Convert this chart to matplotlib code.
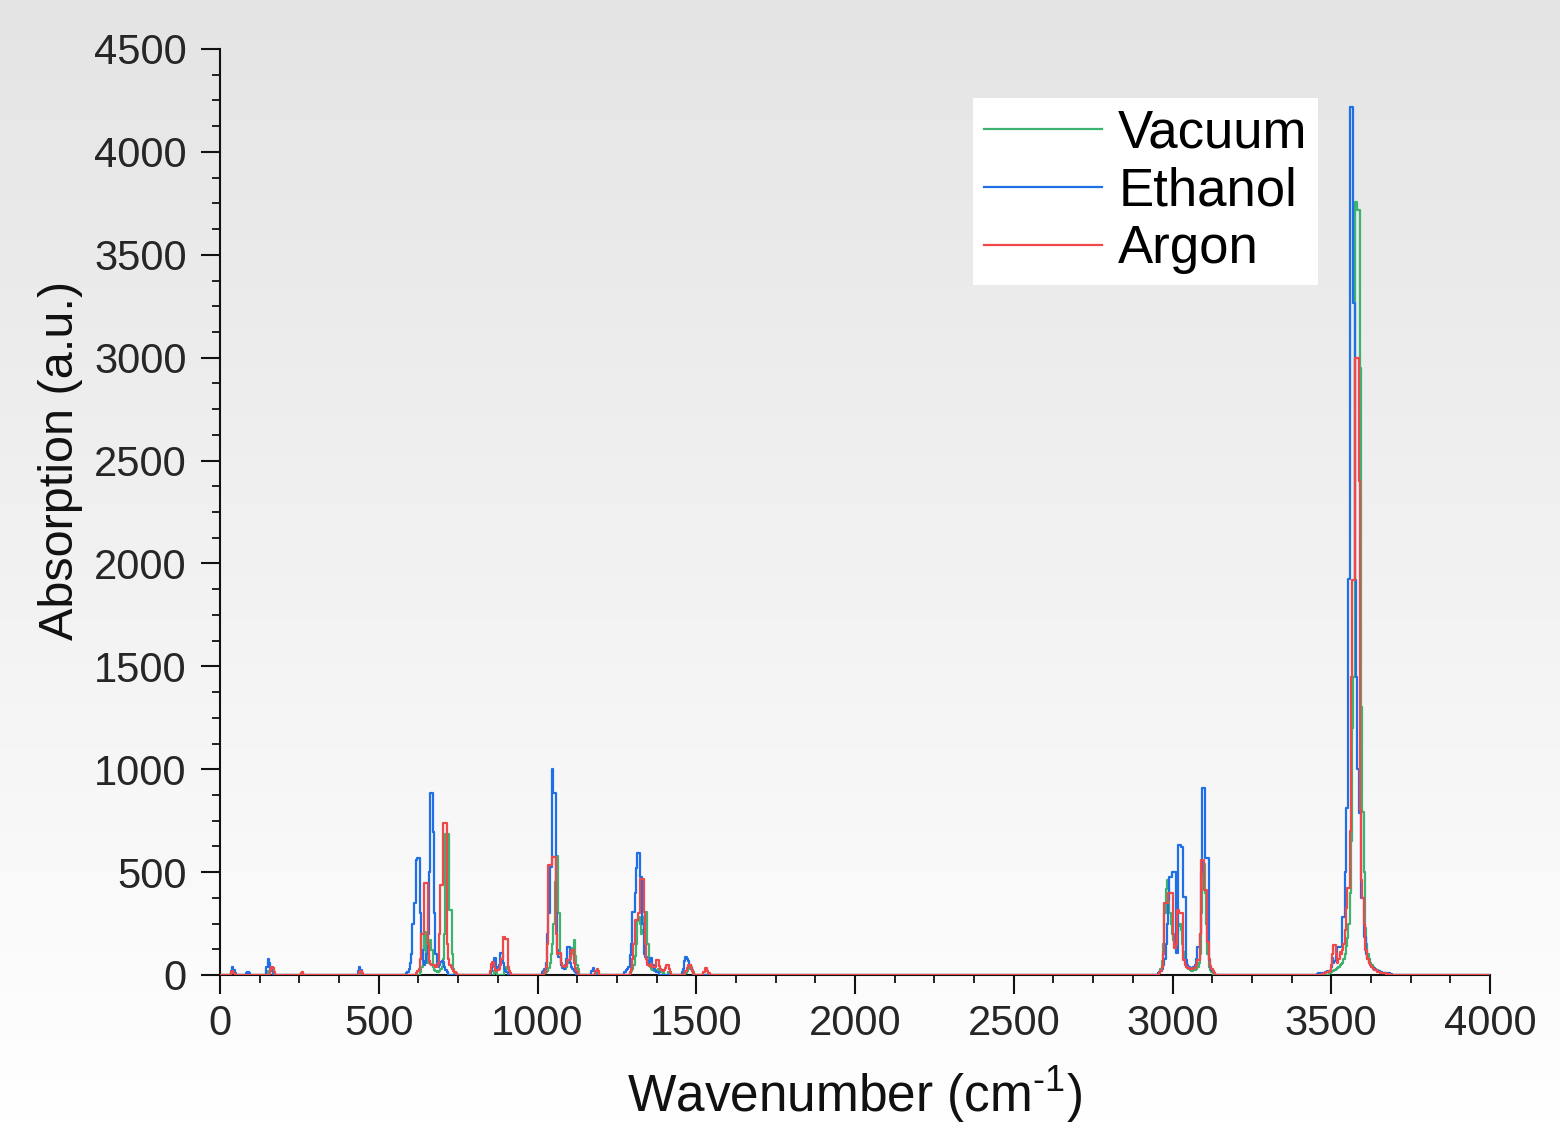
import numpy as np
import matplotlib
matplotlib.use("Agg")
import matplotlib.pyplot as plt

plt.rcParams['font.family'] = ['Liberation Sans', 'DejaVu Sans']
plt.rcParams['mathtext.fontset'] = 'custom'
plt.rcParams['mathtext.rm'] = 'Liberation Sans'
plt.rcParams['mathtext.it'] = 'Liberation Sans'

vacuum_wn = [0,
    32, 36, 40, 44, 48,
    148, 152, 156, 160, 164, 168, 172,
    252, 256, 260, 264,
    436, 440, 444,
    628, 632, 636, 640, 644, 648, 652, 656, 660, 664, 668, 672, 676, 680, 684, 688, 692, 696, 700, 704, 708, 712, 716, 720, 724, 728, 732, 736, 740, 744,
    860, 864, 868, 872, 876,
    892, 896, 900, 904, 908, 912,
    1020, 1024, 1028, 1032, 1036, 1040, 1044, 1048, 1052, 1056, 1060, 1064, 1068, 1072, 1076, 1080, 1084, 1088, 1092, 1096, 1100, 1104, 1108, 1112, 1116, 1120, 1124, 1128, 1132,
    1184, 1188, 1192,
    1288, 1292, 1296, 1300, 1304, 1308, 1312, 1316, 1320, 1324, 1328, 1332, 1336, 1340, 1344, 1348, 1352, 1356, 1360, 1364, 1368, 1372, 1376, 1380, 1384, 1388, 1392, 1396, 1400,
    1408, 1412, 1416,
    1464, 1468, 1472, 1476, 1480, 1484, 1488, 1492, 1496,
    2956, 2960, 2964, 2968, 2972, 2976, 2980, 2984, 2988, 2992, 2996, 3000, 3004, 3008, 3012, 3016, 3020, 3024, 3028, 3032, 3036, 3040, 3044, 3048, 3052, 3056, 3060, 3064, 3068, 3072, 3076, 3080, 3084, 3088, 3092, 3096, 3100, 3104, 3108, 3112, 3116, 3120, 3124, 3128,
    3492, 3496, 3500, 3504, 3508, 3512, 3516, 3520, 3524, 3528, 3532, 3536, 3540, 3544, 3548, 3552, 3556, 3560, 3564, 3568, 3572, 3576, 3580, 3584, 3588, 3592, 3596, 3600, 3604, 3608, 3612, 3616, 3620, 3624, 3628, 3632, 3636, 3640, 3644, 3648, 3652, 3656, 3660, 3668, 3676, 3684,
    4000]
vacuum_abs = [0,
    0, 8, 12, 8, 0,
    0, 20, 15, 30, 35, 25, 0,
    0, 12, 15, 0,
    0, 10, 0,
    0, 15, 40, 120, 209, 209, 100, 60, 140, 170, 120, 40, 25, 20, 15, 15, 20, 30, 40, 80, 200, 685, 685, 685, 316, 316, 100, 30, 12, 0,
    0, 20, 30, 10, 0,
    0, 20, 25, 40, 30, 0,
    0, 10, 15, 20, 35, 60, 100, 150, 250, 450, 578, 578, 300, 100, 60, 40, 30, 30, 40, 60, 70, 80, 100, 130, 170, 90, 50, 30, 0,
    0, 15, 0,
    0, 10, 20, 30, 50, 90, 150, 260, 280, 250, 200, 220, 280, 306, 306, 150, 60, 40, 30, 25, 20, 20, 25, 30, 20, 15, 15, 10, 0,
    0, 15, 0,
    0, 10, 20, 30, 40, 40, 25, 15, 0,
    0, 15, 30, 70, 150, 300, 420, 462, 430, 300, 250, 200, 170, 150, 160, 200, 240, 250, 220, 150, 110, 80, 55, 40, 30, 25, 20, 20, 22, 25, 30, 40, 60, 100, 300, 540, 540, 400, 250, 100, 40, 25, 15, 0,
    0, 10, 15, 18, 20, 25, 30, 35, 40, 50, 55, 60, 80, 100, 140, 180, 250, 400, 650, 1200, 1450, 3756, 3756, 3717, 3717, 2950, 1300, 790, 500, 228, 150, 100, 80, 60, 50, 40, 35, 30, 25, 20, 18, 15, 12, 8, 5, 0,
    0]

ethanol_wn = [0,
    32, 36, 40, 44, 48, 52,
    80, 84, 88, 92, 96,
    144, 148, 152, 156, 160, 164, 168,
    432, 436, 440, 444, 448,
    584, 588, 592, 596, 600, 604, 608, 612, 616, 620, 624, 628, 632, 636, 640, 644, 648, 652, 656, 660, 664, 668, 672, 676, 680, 684, 688, 692, 696, 700, 704, 708, 712, 716, 720,
    852, 856, 860, 864, 868, 872, 876, 880, 884, 888, 892, 896, 900, 904, 908,
    1012, 1016, 1020, 1024, 1028, 1032, 1036, 1040, 1044, 1048, 1052, 1056, 1060, 1064, 1068, 1072, 1076, 1080, 1084, 1088, 1092, 1096, 1100, 1104, 1108, 1112, 1116, 1120, 1124,
    1168, 1172, 1176, 1180, 1184,
    1272, 1276, 1280, 1284, 1288, 1292, 1296, 1300, 1304, 1308, 1312, 1316, 1320, 1324, 1328, 1332, 1336, 1340, 1344, 1348, 1352, 1356, 1360, 1364, 1368, 1372, 1376, 1380, 1384,
    1452, 1456, 1460, 1464, 1468, 1472, 1476, 1480, 1484, 1488, 1492,
    2952, 2956, 2960, 2964, 2968, 2972, 2976, 2980, 2984, 2988, 2992, 2996, 3000, 3004, 3008, 3012, 3016, 3020, 3024, 3028, 3032, 3036, 3040, 3044, 3048, 3052, 3056, 3060, 3064, 3068, 3072, 3076, 3080, 3084, 3088, 3092, 3096, 3100, 3104, 3108, 3112, 3116, 3120, 3124, 3128, 3132, 3136,
    3452, 3456, 3460, 3468, 3476, 3484, 3492, 3496, 3500, 3504, 3508, 3512, 3516, 3520, 3524, 3528, 3532, 3536, 3540, 3544, 3548, 3552, 3556, 3560, 3564, 3568, 3572, 3576, 3580, 3584, 3588, 3592, 3596, 3600, 3604, 3608, 3612, 3616, 3620, 3624, 3628, 3632, 3636, 3640, 3648, 3656, 3664, 3672, 3680, 3688, 3696,
    4000]
ethanol_abs = [0,
    0, 20, 40, 25, 10, 0,
    0, 12, 15, 12, 0,
    0, 40, 80, 60, 30, 20, 0,
    0, 20, 40, 25, 0,
    0, 8, 15, 30, 60, 100, 250, 350, 350, 560, 568, 568, 300, 120, 70, 50, 60, 100, 200, 500, 884, 884, 695, 300, 100, 50, 40, 50, 65, 70, 65, 40, 25, 15, 0,
    0, 20, 50, 82, 82, 40, 30, 50, 107, 107, 60, 30, 20, 15, 0,
    0, 15, 20, 30, 60, 200, 300, 525, 525, 1001, 884, 884, 300, 120, 88, 88, 50, 35, 30, 50, 80, 136, 136, 60, 40, 30, 20, 15, 0,
    0, 20, 34, 20, 0,
    0, 15, 25, 30, 40, 97, 150, 306, 306, 400, 520, 593, 593, 476, 476, 250, 100, 88, 88, 60, 70, 83, 83, 50, 30, 20, 15, 15, 0,
    0, 15, 30, 70, 88, 80, 70, 50, 30, 20, 0,
    0, 10, 15, 20, 30, 50, 80, 150, 250, 364, 476, 476, 500, 500, 500, 107, 107, 632, 632, 622, 622, 379, 379, 73, 50, 40, 35, 33, 35, 40, 50, 80, 136, 136, 200, 500, 908, 908, 568, 568, 568, 73, 40, 25, 18, 12, 0,
    0, 5, 8, 10, 12, 14, 18, 20, 40, 83, 60, 70, 90, 136, 136, 136, 136, 282, 282, 500, 811, 811, 1925, 4218, 4218, 4218, 3265, 1919, 1448, 1000, 787, 787, 374, 374, 185, 185, 100, 80, 60, 50, 40, 35, 30, 25, 20, 15, 12, 10, 8, 5, 0,
    0]

argon_wn = [0,
    32, 36, 40, 44, 48,
    156, 160, 164, 168, 172, 176,
    252, 256, 260, 264,
    436, 440, 444, 448, 452,
    616, 620, 624, 628, 632, 636, 640, 644, 648, 652, 656, 660, 664, 668, 672, 676, 680, 684, 688, 692, 696, 700, 704, 708, 712, 716, 720, 724, 728, 732, 736, 740, 744, 748,
    848, 852, 856, 860, 864, 868, 872, 876, 880, 884, 888, 892, 896, 900, 904, 908, 912, 916, 920,
    1020, 1024, 1028, 1032, 1036, 1040, 1044, 1048, 1052, 1056, 1060, 1064, 1068, 1072, 1076, 1080, 1084, 1088, 1092, 1096, 1100, 1104, 1108, 1112, 1116, 1120, 1124, 1128,
    1180, 1184, 1188, 1192, 1196,
    1288, 1292, 1296, 1300, 1304, 1308, 1312, 1316, 1320, 1324, 1328, 1332, 1336, 1340, 1344, 1348, 1352, 1356, 1360, 1364, 1368, 1372, 1376, 1380, 1384, 1388, 1392, 1396, 1400, 1404, 1408, 1412, 1416, 1420, 1424,
    1460, 1464, 1468, 1472, 1476, 1480, 1484, 1488, 1492, 1496,
    1520, 1524, 1528, 1532, 1536, 1540, 1544,
    2956, 2960, 2964, 2968, 2972, 2976, 2980, 2984, 2988, 2992, 2996, 3000, 3004, 3008, 3012, 3016, 3020, 3024, 3028, 3032, 3036, 3040, 3044, 3048, 3052, 3056, 3060, 3064, 3068, 3072, 3076, 3080, 3084, 3088, 3092, 3096, 3100, 3104, 3108, 3112, 3116, 3120, 3124, 3128, 3132, 3136,
    3468, 3472, 3480, 3488, 3496, 3500, 3504, 3508, 3512, 3516, 3520, 3524, 3528, 3532, 3536, 3540, 3544, 3548, 3552, 3556, 3560, 3564, 3568, 3572, 3576, 3580, 3584, 3588, 3592, 3596, 3600, 3604, 3608, 3612, 3616, 3620, 3624, 3628, 3632, 3640, 3648, 3656, 3668, 3680, 3692,
    4000]
argon_abs = [0,
    0, 15, 20, 10, 0,
    0, 25, 40, 35, 15, 0,
    0, 12, 15, 0,
    0, 15, 20, 10, 0,
    0, 10, 20, 30, 80, 200, 200, 447, 447, 447, 150, 70, 55, 48, 48, 48, 40, 45, 60, 200, 437, 437, 738, 738, 738, 150, 80, 50, 40, 30, 20, 15, 10, 0,
    0, 20, 55, 63, 40, 25, 20, 25, 30, 50, 80, 185, 185, 175, 175, 40, 20, 10, 0,
    0, 15, 40, 150, 534, 534, 534, 573, 573, 573, 200, 100, 107, 107, 60, 45, 40, 45, 50, 73, 73, 90, 121, 121, 60, 35, 20, 0,
    0, 20, 30, 20, 0,
    0, 15, 30, 80, 150, 267, 267, 267, 300, 466, 466, 466, 306, 150, 80, 50, 45, 50, 55, 40, 38, 40, 73, 73, 45, 30, 25, 20, 25, 35, 49, 49, 30, 15, 0,
    0, 10, 20, 35, 49, 49, 35, 20, 10, 0,
    0, 15, 34, 34, 20, 10, 0,
    0, 10, 20, 40, 100, 350, 350, 350, 398, 398, 398, 398, 200, 130, 150, 316, 316, 300, 300, 300, 73, 50, 40, 35, 32, 30, 30, 30, 32, 35, 50, 73, 73, 200, 559, 559, 413, 413, 413, 160, 80, 45, 30, 18, 10, 0,
    0, 5, 10, 15, 20, 50, 100, 146, 146, 100, 58, 80, 112, 100, 120, 150, 220, 325, 423, 423, 700, 1448, 1919, 1919, 2998, 2998, 2998, 2400, 800, 462, 374, 250, 121, 121, 80, 60, 50, 40, 30, 22, 15, 12, 8, 5, 0,
    0]

series_names = ["Vacuum", "Ethanol", "Argon"]
series_colors = ["#3cb371", "#1f6fe6", "#f04848"]

x_ticks = [0, 500, 1000, 1500, 2000, 2500, 3000, 3500, 4000]
y_ticks = [0, 500, 1000, 1500, 2000, 2500, 3000, 3500, 4000, 4500]

# ---------------- figure ----------------
W, H = 1560, 1126
fig = plt.figure(figsize=(W / 100, H / 100), dpi=100)

# background gradient (light gray at top to white at bottom)
bg = fig.add_axes([0, 0, 1, 1], zorder=-10)
grad = np.linspace(0.895, 1.0, 256).reshape(-1, 1)
bg.imshow(np.dstack([grad, grad, grad]), aspect='auto', extent=[0, 1, 0, 1], origin='upper')
bg.axis('off')

ax = fig.add_axes([220 / W, (H - 975) / H, 1270 / W, 926 / H])
ax.set_facecolor('none')

data = [(vacuum_wn, vacuum_abs), (ethanol_wn, ethanol_abs), (argon_wn, argon_abs)]
for (wn, ab), name, col in zip(data, series_names, series_colors):
    ax.plot(wn, ab, drawstyle='steps-mid', color=col, lw=1.6, label=name, zorder=3)

ax.set_xlim(0, 4000)
ax.set_ylim(0, 4500)
ax.set_xticks(x_ticks)
ax.set_yticks(y_ticks)
ax.set_xticks(np.arange(0, 4001, 125), minor=True)
ax.set_yticks(np.arange(0, 4501, 125), minor=True)

for s in ['top', 'right']:
    ax.spines[s].set_visible(False)
for s in ['left', 'bottom']:
    ax.spines[s].set_linewidth(1.5)
    ax.spines[s].set_color('#111111')

tick_color = '#262626'
ax.tick_params(axis='both', which='major', direction='out', length=14, width=1.5,
               labelsize=30, labelcolor=tick_color, color='#111111')
ax.tick_params(axis='both', which='minor', direction='out', length=6, width=1.3, color='#111111')
ax.tick_params(axis='y', which='major', pad=10)
ax.tick_params(axis='x', which='major', pad=7)

ax.set_xlabel('Wavenumber (cm$^{\\text{-1}}$)', fontsize=37, color='#111111', labelpad=15)
ax.set_ylabel('Absorption (a.u.)', fontsize=35, color='#111111')
ax.yaxis.set_label_coords(-0.108, 0.556)

leg = ax.legend(loc='upper left', bbox_to_anchor=(973 / W, 1 - 98 / H),
                bbox_transform=fig.transFigure, fontsize=38, frameon=True,
                fancybox=False, framealpha=1.0, edgecolor='none', facecolor='white',
                handlelength=2.25, handletextpad=0.3, labelspacing=0.15,
                borderpad=0.2, borderaxespad=0.0)
for line in leg.get_lines():
    line.set_linewidth(1.6)

fig.savefig('out.png', dpi=100)
